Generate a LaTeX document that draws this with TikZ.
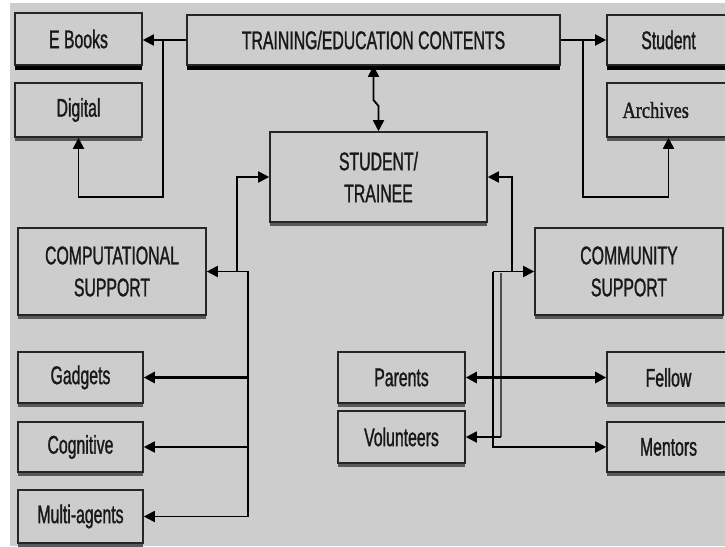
\documentclass[tikz,border=0pt]{standalone}
\usepackage{fontspec}
\setmainfont[FakeStretch=0.62,FakeBold=1.2]{Liberation Sans}
\newfontfamily\archfont[FakeStretch=0.8,FakeBold=1.2]{Liberation Serif}
\usetikzlibrary{arrows.meta,shadows}
\definecolor{bg}{HTML}{CDCDCD}
\begin{document}
\begin{tikzpicture}[x=1pt,y=-1pt,
  box/.style={draw=black!85, line width=1.6pt, fill=bg, inner sep=0pt, align=center,
    font=\fontsize{25.5}{32}\selectfont, text=black!90,
    drop shadow={shadow xshift=0pt, shadow yshift=-4pt, fill=black!65, opacity=1}},
  topbox/.style={box, drop shadow={shadow xshift=0pt, shadow yshift=-5pt, fill=black, opacity=1}},
  tip/.tip={Triangle[length=11pt,width=11pt]},
  conn/.style={draw=black, line width=1.8pt},
  arr/.style={conn, -tip},
  arrr/.style={conn, tip-tip},
  thickconn/.style={line width=3.5pt}
]
\useasboundingbox (0,0) rectangle (725,546);
\clip (0,0) rectangle (725,546);
\fill[white] (0,0) rectangle (725,546);
\fill[bg] (10,3) rectangle (725,546);

% top row
\node[topbox, minimum width=127pt, minimum height=52pt] (ebooks) at (78.5,39) {E Books};
\node[topbox, minimum width=373pt, minimum height=50pt] (train) at (373.5,40) {TRAINING/EDUCATION CONTENTS};
\node[topbox, minimum width=123pt, minimum height=50pt] (student) at (668.5,40) {Student};
\node[box, minimum width=127pt, minimum height=54pt] (digital) at (78.5,110) {Digital};
\node[box, minimum width=123pt, minimum height=54pt, text width=92pt, align=left,
      font=\archfont\fontsize{23}{26}\selectfont] (archives) at (668.5,110) {Archives};

% middle
\node[box, minimum width=217pt, minimum height=90pt] (trainee) at (378.5,177) {STUDENT/\\TRAINEE};
\node[box, minimum width=188pt, minimum height=87pt] (comp) at (112,271.5) {COMPUTATIONAL\\SUPPORT};
\node[box, minimum width=188pt, minimum height=87pt] (comm) at (629,271.5) {COMMUNITY\\SUPPORT};

% bottom left
\node[box, minimum width=125pt, minimum height=51pt] (gadgets) at (80.5,377.5) {Gadgets};
\node[box, minimum width=125pt, minimum height=50pt] (cognitive) at (80.5,447) {Cognitive};
\node[box, minimum width=125pt, minimum height=53pt] (multi) at (80.5,516.5) {Multi-agents};

% bottom right
\node[box, minimum width=127pt, minimum height=51pt] (parents) at (401.5,377.5) {Parents};
\node[box, minimum width=127pt, minimum height=52pt] (volunteers) at (401.5,437) {Volunteers};
\node[box, minimum width=123pt, minimum height=51pt] (fellow) at (668.5,377.5) {Fellow};
\node[box, minimum width=123pt, minimum height=50pt] (mentors) at (668.5,447) {Mentors};

% coordinates
\coordinate (j1) at (163,40);
\coordinate (dc) at (78.5,197);
\coordinate (j2) at (583,40);
\coordinate (ac) at (668.5,197);
\coordinate (t1) at (373.5,100);
\coordinate (t2) at (378.5,106);
\coordinate (cv) at (237,271.5);
\coordinate (cb) at (248,271.5);
\coordinate (rc) at (512,271.5);
\coordinate (rv1) at (493,271.5);
\coordinate (rv2) at (501,273);

% top connectors
\draw[arr] (train.west) -- (ebooks.east |- train.west);
\draw[arr] (j1) |- (dc) -- (digital.south);
\draw[arr] (train.east) -- (student.west);
\draw[arr] (j2) |- (ac) -- (archives.south);
\draw[arrr] (train.south) -- (t1) -- (t2) -- (trainee.north);

% computational side
\draw[arrr] (comp.east) -- (cv) |- (trainee.west);
\draw[conn] (cv) -- (cb) -- (cb |- multi.east);
\draw[arr, thickconn] (cb |- gadgets.east) -- (gadgets.east);
\draw[arr] (cb |- cognitive.east) -- (cognitive.east);
\draw[arr] (cb |- multi.east) -- (multi.east);

% community side
\draw[arrr] (trainee.east) -| (rc) -- (comm.west);
\draw[conn] (rv1) -- (rc);
\draw[arr] (rv1) |- (mentors.west);
\draw[conn, draw=black!70, line width=2.5pt] (rv2) -- (rv2 |- volunteers.east);
\draw[arr] (rv2 |- volunteers.east) -- (volunteers.east);
\draw[arrr, thickconn] (parents.east) -- (fellow.west);
\end{tikzpicture}
\end{document}
